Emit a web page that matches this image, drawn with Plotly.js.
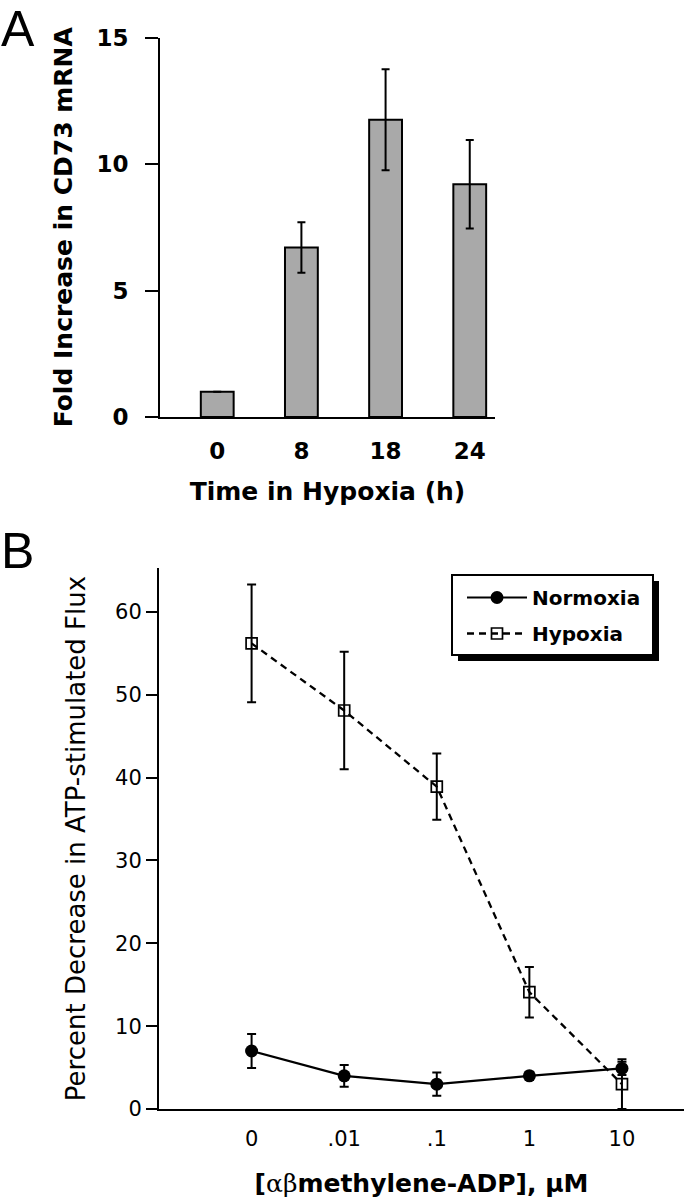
<!DOCTYPE html>
<html>
<head>
<meta charset="utf-8">
<script src="https://cdn.plot.ly/plotly-3.0.1.min.js"></script>
<style>html,body{margin:0;padding:0;background:#fff;}#chart{width:684px;height:1199px;}</style>
</head>
<body>
<div id="chart"></div>
<script>
// Panel A data
const hoursLabels = ['0', '8', '18', '24'];
const foldIncrease = [1.0, 6.7, 11.75, 9.2];
const foldError = [0, 1.0, 2.0, 1.75];

// Panel B data
const concLabels = ['0', '.01', '.1', '1', '10'];
const normoxia = [7.0, 4.0, 3.0, 4.0, 4.9];
const normoxiaErr = [2.05, 1.3, 1.4, 0.5, 0.8];
const hypoxia = [56.2, 48.1, 38.9, 14.1, 3.0];
const hypoxiaErr = [7.1, 7.1, 4.0, 3.05, 3.0];

const W = 684, H = 1199;
const px = v => v / W;
const py = v => 1 - v / H;

const boldFont = {family: 'DejaVu Sans, Verdana, sans-serif', weight: 'bold', color: '#000'};
const regFont = {family: 'DejaVu Sans, Verdana, sans-serif', color: '#000'};

const traces = [
  {
    type: 'bar', x: hoursLabels, y: foldIncrease, xaxis: 'x', yaxis: 'y',
    width: 0.39,
    marker: {color: '#a9a9a9', line: {color: '#000', width: 2}},
    error_y: {type: 'data', array: foldError, visible: true, color: '#000', thickness: 2, width: 4},
    showlegend: false, hoverinfo: 'skip'
  },
  {
    type: 'scatter', mode: 'lines+markers', name: 'Hypoxia', legendgroup: 'h',
    x: concLabels, y: hypoxia, xaxis: 'x2', yaxis: 'y2',
    line: {color: '#000', width: 2.3, dash: '7px,5px'},
    marker: {symbol: 'square-open', size: 11, color: '#000', line: {width: 1.7, color: '#000'}},
    error_y: {type: 'data', array: hypoxiaErr, visible: true, color: '#000', thickness: 2, width: 4.5},
    legendrank: 2
  },
  {
    type: 'scatter', mode: 'lines+markers', name: 'Normoxia', legendgroup: 'n',
    x: concLabels, y: normoxia, xaxis: 'x2', yaxis: 'y2',
    line: {color: '#000', width: 2.2},
    marker: {symbol: 'circle', size: 13, color: '#000'},
    error_y: {type: 'data', array: normoxiaErr, visible: true, color: '#000', thickness: 2, width: 4.5},
    legendrank: 1
  }
];

const layout = {
  width: W, height: H,
  margin: {l: 0, r: 0, t: 0, b: 0},
  paper_bgcolor: '#fff', plot_bgcolor: '#fff',
  showlegend: true,
  legend: {
    x: px(462), y: py(578), xanchor: 'left', yanchor: 'top',
    bgcolor: 'rgba(0,0,0,0)', borderwidth: 0,
    font: Object.assign({}, boldFont, {size: 20}),
    traceorder: 'grouped', tracegroupgap: 7, itemwidth: 60
  },
  xaxis: {
    domain: [px(160), px(495)], anchor: 'y', type: 'category',
    range: [-0.68, 3.30], showline: true, linecolor: '#000', linewidth: 2,
    showgrid: false, zeroline: false, ticks: '',
    tickfont: Object.assign({}, boldFont, {size: 23}), ticklabelstandoff: 12,
    title: {text: 'Time in Hypoxia (h)', font: Object.assign({}, boldFont, {size: 25}), standoff: 20}
  },
  yaxis: {
    domain: [py(417), py(37.5)], anchor: 'x', range: [0, 15],
    tickvals: [0, 5, 10, 15], showline: true, linecolor: '#000', linewidth: 2,
    showgrid: false, zeroline: false, ticks: 'outside', ticklen: 13, tickwidth: 2, tickcolor: '#000',
    tickfont: Object.assign({}, boldFont, {size: 23}), ticklabelstandoff: 12,
    title: {text: 'Fold Increase in CD73 mRNA', font: Object.assign({}, boldFont, {size: 25}), standoff: 17}
  },
  xaxis2: {
    domain: [px(159), 1], anchor: 'y2', type: 'category',
    range: [-1.0, 4.67], showline: true, linecolor: '#000', linewidth: 2,
    showgrid: false, zeroline: false, ticks: '',
    tickfont: Object.assign({}, regFont, {size: 21}), ticklabelstandoff: 10,
    title: {text: '[<span style="font-family:\'DejaVu Serif\',serif;font-weight:normal">αβ</span>methylene-ADP], μM',
            font: Object.assign({}, boldFont, {size: 25}), standoff: 24}
  },
  yaxis2: {
    domain: [py(1109), py(568)], anchor: 'x2', range: [0, 65.3],
    tickvals: [0, 10, 20, 30, 40, 50, 60], showline: true, linecolor: '#000', linewidth: 2,
    showgrid: false, zeroline: false, ticks: 'outside', ticklen: 11, tickwidth: 2, tickcolor: '#000',
    tickfont: Object.assign({}, regFont, {size: 21}), ticklabelstandoff: 0,
    title: {text: 'Percent Decrease in ATP-stimulated Flux', font: Object.assign({}, regFont, {size: 26}), standoff: 22}
  },
  shapes: [
    {type: 'rect', xref: 'paper', yref: 'paper', x0: px(458), x1: px(659), y0: py(661), y1: py(581),
     fillcolor: '#000', line: {width: 0}, layer: 'above'},
    {type: 'rect', xref: 'paper', yref: 'paper', x0: px(452), x1: px(653), y0: py(655), y1: py(575),
     fillcolor: '#fff', line: {width: 2, color: '#000'}, layer: 'above'}
  ],
  annotations: [
    {text: 'A', xref: 'paper', yref: 'paper', x: 0, y: 1, xanchor: 'left', yanchor: 'top',
     borderpad: 0, showarrow: false, font: {family: 'Liberation Sans, Arial, sans-serif', size: 50, color: '#000'}},
    {text: 'B', xref: 'paper', yref: 'paper', x: 0, y: py(522), xanchor: 'left', yanchor: 'top',
     borderpad: 0, showarrow: false, font: {family: 'Liberation Sans, Arial, sans-serif', size: 50, color: '#000'}}
  ]
};

Plotly.newPlot('chart', traces, layout, {staticPlot: true, displayModeBar: false});
</script>
</body>
</html>
